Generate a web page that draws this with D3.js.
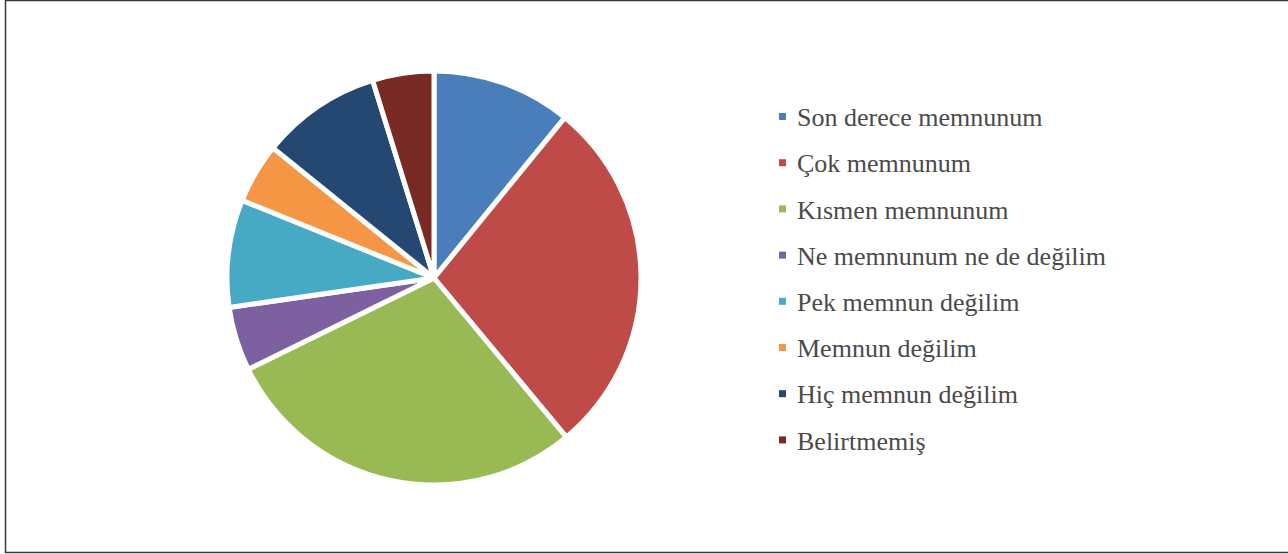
<!DOCTYPE html>
<html>
<head>
<meta charset="utf-8">
<script src="https://cdn.jsdelivr.net/npm/d3@7"></script>
<style>
  html, body { margin: 0; padding: 0; background: #ffffff; }
  svg { display: block; }
  .legend-label { font-family: "Liberation Serif", "Times New Roman", Times, "DejaVu Serif", serif; }
</style>
</head>
<body>
<svg id="chart" width="1288" height="554"></svg>
<script>
// Satisfaction survey shares (%)
const categories = [
  "Son derece memnunum",
  "Çok memnunum",
  "Kısmen memnunum",
  "Ne memnunum ne de değilim",
  "Pek memnun değilim",
  "Memnun değilim",
  "Hiç memnun değilim",
  "Belirtmemiş"
];
const values = [10.9, 28.1, 28.8, 5.0, 8.4, 4.7, 9.4, 4.8];
const colors = ["#4a7ebb", "#be4b48", "#98b954", "#7d60a0", "#46aac5", "#f59645", "#254873", "#7a2a24"];

const svg = d3.select("#chart");

// Frame
svg.append("path")
  .attr("d", "M5.5,553 L5.5,0.5 L1290,0.5")
  .attr("fill", "none")
  .attr("stroke", "#3a3a3a")
  .attr("stroke-width", 1.5);
svg.append("line")
  .attr("x1", 5).attr("x2", 1290)
  .attr("y1", 552.5).attr("y2", 552.5)
  .attr("stroke", "#3a3a3a")
  .attr("stroke-width", 1.5);

const cx = 434, cy = 278, radius = 207;

const pie = d3.pie().sort(null).value(d => d.value);
const arc = d3.arc().innerRadius(0).outerRadius(radius);
const data = categories.map((c, i) => ({ name: c, value: values[i] }));

const color = d3.scaleOrdinal().domain(categories).range(colors);

svg.append("g")
  .attr("transform", `translate(${cx},${cy})`)
  .selectAll("path")
  .data(pie(data))
  .join("path")
  .attr("d", arc)
  .attr("fill", d => color(d.data.name))
  .attr("stroke", "#ffffff")
  .attr("stroke-width", 5)
  .attr("stroke-linejoin", "round");

// Legend
const legendX = 779, legendY0 = 117, legendStep = 46.2;
const legend = svg.append("g");
const rows = legend.selectAll("g")
  .data(categories)
  .join("g")
  .attr("transform", (d, i) => `translate(${legendX},${legendY0 + i * legendStep})`);

rows.append("rect")
  .attr("x", 0).attr("y", -4)
  .attr("width", 7).attr("height", 7)
  .attr("fill", d => color(d));

rows.append("text")
  .attr("class", "legend-label")
  .attr("x", 18)
  .attr("y", 0)
  .attr("dy", "0.35em")
  .attr("font-size", 26)
  .attr("fill", "#4a4a4a")
  .text(d => d);
</script>
</body>
</html>
